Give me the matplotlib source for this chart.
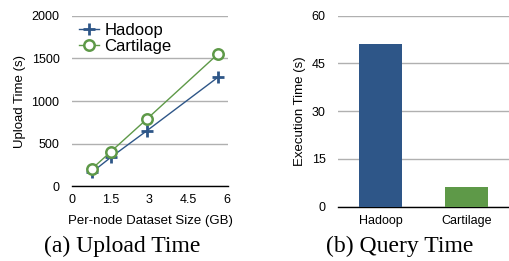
import matplotlib.pyplot as plt

plt.rcParams['font.family'] = ['Liberation Sans', 'DejaVu Sans']

# data
sizes = [0.76, 1.5, 2.9, 5.68]
hadoop_upload = [160, 337, 650, 1284]
cartilage_upload = [200, 403, 787, 1558]

systems = ['Hadoop', 'Cartilage']
query_time = [51.1, 6.2]

blue = '#2E5688'
green = '#5E9948'
grid_c = '#B0B0B0'

fig = plt.figure(figsize=(5.09, 2.61), dpi=100)

# (a) upload time
ax1 = fig.add_axes([0.1415, 0.287, 0.3065, 0.652])
ax1.plot(sizes, hadoop_upload, color=blue, lw=1, marker='+', ms=9, mew=2, label='Hadoop')
ax1.plot(sizes, cartilage_upload, color=green, lw=1, marker='o', ms=7.5, mew=1.8,
         mfc='white', label='Cartilage')
ax1.set_xlim(0, 6.05)
ax1.set_ylim(0, 2000)
ax1.set_xticks([0, 1.5, 3, 4.5, 6])
ax1.set_xticklabels(['0', '1.5', '3', '4.5', '6'])
ax1.set_yticks([0, 500, 1000, 1500, 2000])
ax1.set_xlabel('Per-node Dataset Size (GB)', fontsize=9.5, labelpad=6)
ax1.set_ylabel('Upload Time (s)', fontsize=9.5, labelpad=4)
ax1.legend(loc='upper left', bbox_to_anchor=(0.0, 1.0), frameon=False, fontsize=12,
           handlelength=1.2, handletextpad=0.35, labelspacing=0.1, borderaxespad=0.0)

# (b) query time
ax2 = fig.add_axes([0.664, 0.208, 0.336, 0.732])
ax2.bar([0, 1], query_time, width=0.5, color=[blue, green], zorder=3)
ax2.set_xlim(-0.5, 1.5)
ax2.set_ylim(0, 60)
ax2.set_xticks([0, 1])
ax2.set_xticklabels(systems)
ax2.set_yticks([0, 15, 30, 45, 60])
ax2.set_ylabel('Execution Time (s)', fontsize=9.5, labelpad=4)

for ax in (ax1, ax2):
    ax.grid(axis='y', color=grid_c, lw=1)
    ax.set_axisbelow(True)
    for s in ['top', 'right', 'left']:
        ax.spines[s].set_visible(False)
    ax.spines['bottom'].set_color('black')
    ax.spines['bottom'].set_linewidth(1)
    ax.tick_params(length=0, labelsize=9)
    ax.tick_params(axis='y', pad=9)
    ax.tick_params(axis='x', pad=6)

fig.text(0.24, 0.035, '(a) Upload Time', family=['Liberation Serif'], fontsize=17,
         ha='center', va='baseline')
fig.text(0.786, 0.035, '(b) Query Time', family=['Liberation Serif'], fontsize=17,
         ha='center', va='baseline')

fig.savefig('out.png', dpi=100)
